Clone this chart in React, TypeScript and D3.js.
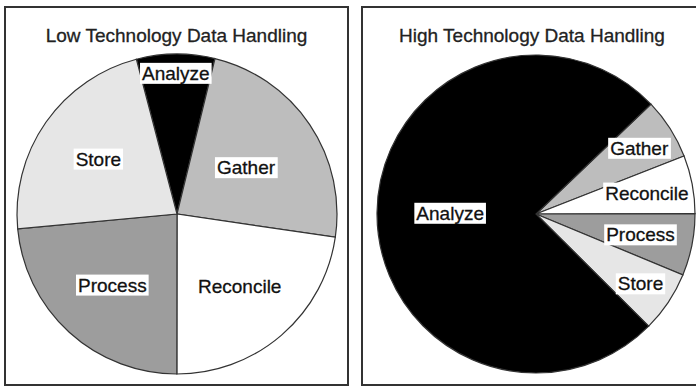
import React, { useRef, useEffect } from "react";
import * as d3 from "d3";

// slice data (percent of the pie)
const lowLabels = ["Analyze", "Gather", "Reconcile", "Process", "Store"];
const lowValues = [7.9, 23.5, 22.7, 23.5, 22.4];
const highLabels = ["Gather", "Reconcile", "Process", "Store", "Analyze"];
const highValues = [6.2, 5.9, 6.3, 6.2, 75.4];
const titles = ["Low Technology Data Handling", "High Technology Data Handling"];

const fills: Record<string, string> = {
  Analyze: "#000000",
  Gather: "#bdbdbd",
  Reconcile: "#ffffff",
  Process: "#9d9d9d",
  Store: "#e6e6e6",
};

const W = 696;
const H = 387;
const FONT = "'Liberation Sans', Arial, Helvetica, sans-serif";

const panels = [
  {
    labels: lowLabels, values: lowValues, title: titles[0],
    box: { x: 5, y: 7, w: 343, h: 378 },
    cx: 177, cy: 214, r: 160,
    start: -14.7,
    labelR: { Analyze: 0.88, Gather: 0.52 } as Record<string, number>,
    defaultLabelR: 0.6,
    hideBox: ["Reconcile"],
  },
  {
    labels: highLabels, values: highValues, title: titles[1],
    box: { x: 362, y: 7, w: 340, h: 378 },
    cx: 536, cy: 214, r: 159,
    start: 46.3,
    labelR: { Analyze: 0.54, Gather: 0.77, Reconcile: 0.71, Process: 0.67, Store: 0.79 } as Record<string, number>,
    defaultLabelR: 0.75,
    hideBox: [] as string[],
  },
];

const App = () => {
  const svgRef = useRef<SVGSVGElement>(null);

  useEffect(() => {
    const svg = d3.select(svgRef.current);
    svg.selectAll("*").remove();

    svg.append("rect").attr("width", W).attr("height", H).attr("fill", "#fff");

    panels.forEach((p, pi) => {
      const clipId = `clip-${pi}`;
      svg.append("clipPath").attr("id", clipId)
        .append("rect")
        .attr("x", p.box.x + 1).attr("y", p.box.y + 1)
        .attr("width", p.box.w - 2).attr("height", p.box.h - 2);

      const g = svg.append("g").attr("clip-path", `url(#${clipId})`);

      const data = p.labels.map((l, i) => ({ label: l, value: p.values[i] }));
      const start = (p.start * Math.PI) / 180;
      const pie = d3.pie<{ label: string; value: number }>()
        .sort(null)
        .value(d => d.value)
        .startAngle(start)
        .endAngle(start + 2 * Math.PI);
      const arcs = pie(data);
      const arc = d3.arc<d3.PieArcDatum<{ label: string; value: number }>>()
        .innerRadius(0)
        .outerRadius(p.r);

      const pieG = g.append("g").attr("transform", `translate(${p.cx},${p.cy})`);
      pieG.selectAll("path")
        .data(arcs)
        .join("path")
        .attr("d", arc)
        .attr("fill", d => fills[d.data.label])
        .attr("stroke", "#333")
        .attr("stroke-width", 1.2);

      // labels
      arcs.forEach(a => {
        const mid = (a.startAngle + a.endAngle) / 2;
        const rr = (p.labelR[a.data.label] ?? p.defaultLabelR) * p.r;
        const x = Math.sin(mid) * rr;
        const y = -Math.cos(mid) * rr;
        const lg = pieG.append("g").attr("transform", `translate(${x},${y})`);
        const t = lg.append("text")
          .attr("text-anchor", "middle")
          .attr("dy", "0.35em")
          .attr("font-family", FONT)
          .attr("font-size", 19)
          .attr("fill", "#111")
          .attr("stroke", "#111")
          .attr("stroke-width", 0.3)
          .text(a.data.label);
        if (!p.hideBox.includes(a.data.label)) {
          const bb = (t.node() as SVGTextElement).getBBox();
          lg.insert("rect", "text")
            .attr("x", bb.x - 2)
            .attr("y", bb.y)
            .attr("width", bb.width + 4)
            .attr("height", bb.height)
            .attr("fill", "#fff");
        }
      });

      // title
      svg.append("text")
        .attr("x", p.box.x + p.box.w / 2)
        .attr("y", 42)
        .attr("text-anchor", "middle")
        .attr("font-family", FONT)
        .attr("font-size", 19)
        .attr("fill", "#222")
        .attr("stroke", "#222")
        .attr("stroke-width", 0.3)
        .text(p.title);

      // panel border
      svg.append("rect")
        .attr("x", p.box.x).attr("y", p.box.y)
        .attr("width", p.box.w).attr("height", p.box.h)
        .attr("fill", "none")
        .attr("stroke", "#333")
        .attr("stroke-width", 2);
    });
  }, []);

  return (
    <svg
      ref={svgRef}
      width={W}
      height={H}
      style={{ position: "absolute", left: 0, top: 0 }}
    />
  );
};

export default App;
